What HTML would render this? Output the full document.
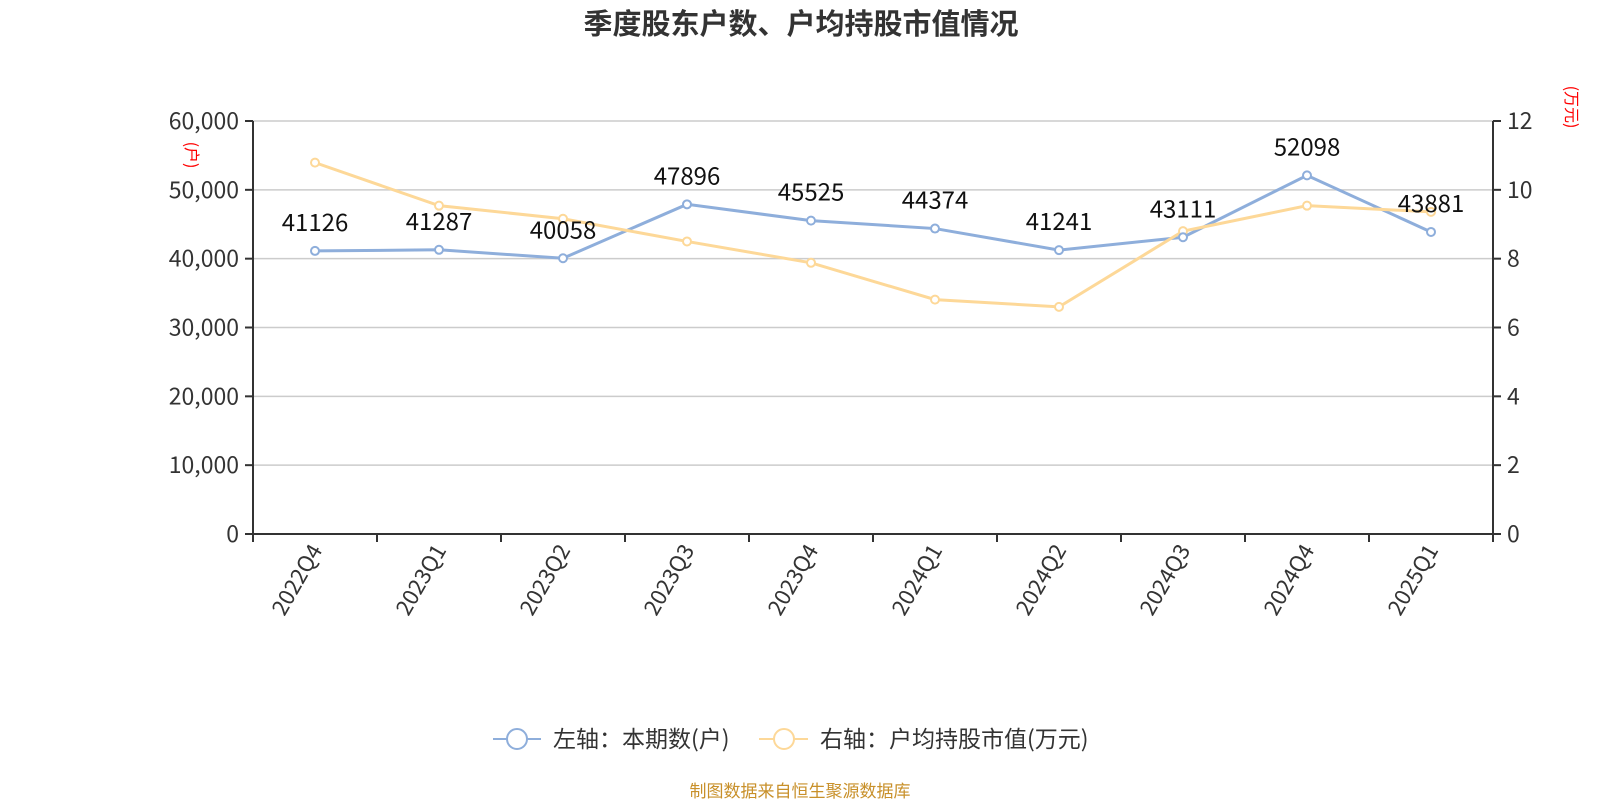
<!DOCTYPE html>
<html><head><meta charset="utf-8"><style>
body{margin:0;background:#fff;width:1600px;height:800px;overflow:hidden}
svg text{font-family:"Noto Sans CJK SC","Liberation Sans",sans-serif}
</style></head><body>
<svg id="chart" width="1600" height="800" xmlns="http://www.w3.org/2000/svg">
<text x="801" y="34" text-anchor="middle" font-size="29" font-weight="bold" fill="#333">季度股东户数、户均持股市值情况</text>
<g id="grid"></g><g id="axes"></g><g id="series"></g>
<text transform="translate(186,155) rotate(90)" text-anchor="middle" font-size="16" fill="red">(户)</text>
<text transform="translate(1566,107) rotate(90)" text-anchor="middle" font-size="16" fill="red">(万元)</text>
<g>
<g>
<line x1="493" y1="739" x2="541" y2="739" stroke="#8eaedb" stroke-width="2"/>
<circle cx="517" cy="739" r="10" fill="#fff" stroke="#8eaedb" stroke-width="2"/>
<text x="553" y="747" font-size="23" fill="#333">左轴：本期数(户)</text></g>
<g>
<line x1="759" y1="739" x2="808" y2="739" stroke="#fdd898" stroke-width="2"/>
<circle cx="784" cy="739" r="10" fill="#fff" stroke="#fdd898" stroke-width="2"/>
<text x="820" y="747" font-size="23" fill="#333">右轴：户均持股市值(万元)</text></g>
</g>
<text x="800" y="797" text-anchor="middle" font-size="17" fill="#c8902a">制图数据来自恒生聚源数据库</text>
</svg>
<script>
const categories=["2022Q4","2023Q1","2023Q2","2023Q3","2023Q4","2024Q1","2024Q2","2024Q3","2024Q4","2025Q1"];
const holders=[41126,41287,40058,47896,45525,44374,41241,43111,52098,43881];
const avgValue=[10.79,9.54,9.16,8.5,7.88,6.81,6.6,8.8,9.54,9.36];
const leftTicks=[0,10000,20000,30000,40000,50000,60000];
const rightTicks=[0,2,4,6,8,10,12];
const NS="http://www.w3.org/2000/svg";
const L=253,R=1493,T=121,B=534;
const bw=(R-L)/categories.length;
const x=i=>L+bw*(i+0.5);
const yL=v=>B-(v/60000)*(B-T);
const yR=v=>B-(v/12)*(B-T);
function mk(tag,attrs,parent,txt){const e=document.createElementNS(NS,tag);for(const k in attrs)e.setAttribute(k,attrs[k]);if(txt!==undefined)e.textContent=txt;parent.appendChild(e);return e;}
const grid=document.getElementById('grid'),axes=document.getElementById('axes'),ser=document.getElementById('series');
leftTicks.forEach((t,i)=>{
  const y=yL(t);
  if(t>0){const g=mk('line',{x1:L,x2:R,y1:y,y2:y,stroke:'#ccc','stroke-width':1.5},grid);
  
  }
  mk('line',{x1:L-8,x2:L,y1:y,y2:y,stroke:'#333','stroke-width':2},axes);
  const tl=mk('text',{x:L-14,y:y+8,'text-anchor':'end','font-size':23,fill:'#333'},axes,t.toLocaleString('en-US'));
  
  
});
rightTicks.forEach(t=>{
  const y=yR(t);
  mk('line',{x1:R,x2:R+8,y1:y,y2:y,stroke:'#333','stroke-width':2},axes);
  const tl=mk('text',{x:R+14,y:y+8,'font-size':23,fill:'#333'},axes,String(t));
  
  
});
mk('line',{x1:L,x2:L,y1:T,y2:B,stroke:'#333','stroke-width':2},axes);
mk('line',{x1:R,x2:R,y1:T,y2:B,stroke:'#333','stroke-width':2},axes);
const xa=mk('line',{x1:L,x2:R,y1:B,y2:B,stroke:'#333','stroke-width':2},axes);


for(let i=0;i<=categories.length;i++){const tx=L+bw*i;mk('line',{x1:tx,x2:tx,y1:B,y2:B+8,stroke:'#333','stroke-width':2},axes);}
categories.forEach((c,i)=>{
  const t=mk('text',{transform:`translate(${x(i)+8},${B+16}) rotate(-60)`,'text-anchor':'end','font-size':22,fill:'#333'},axes,c);
  
  
});
function line(vals,yf,color,name){
  const p=mk('polyline',{points:vals.map((v,i)=>x(i)+','+yf(v)).join(' '),fill:'none',stroke:color,'stroke-width':3},ser);
  
  
}
line(holders,yL,'#8eaedb','holders');
line(avgValue,yR,'#fdd898','avg-value');
avgValue.forEach((v,i)=>{
  const c=mk('circle',{cx:x(i),cy:yR(v),r:4,fill:'#fff',stroke:'#fdd898','stroke-width':2},ser);
  
  
});
holders.forEach((v,i)=>{
  const c=mk('circle',{cx:x(i),cy:yL(v),r:4,fill:'#fff',stroke:'#8eaedb','stroke-width':2},ser);
  
  
  const t=mk('text',{x:x(i),y:yL(v)-20,'text-anchor':'middle','font-size':24,fill:'#111'},ser,String(v));
  
  
});
</script>
</body></html>
